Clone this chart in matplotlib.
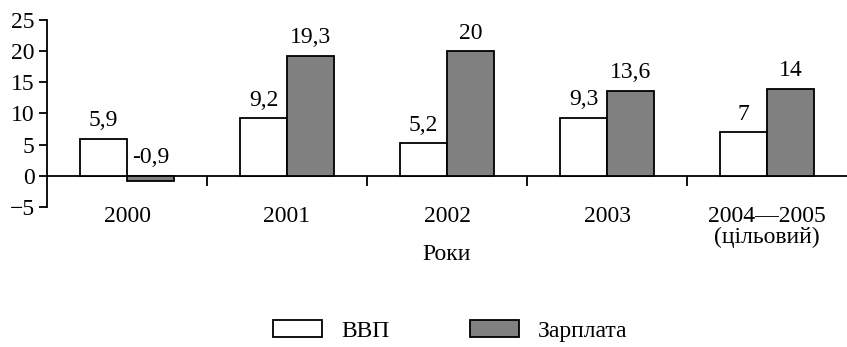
import matplotlib.pyplot as plt
import numpy as np

# дані
roky = ['2000', '2001', '2002', '2003', '2004\u20142005\n(цільовий)']
vvp = [5.9, 9.2, 5.2, 9.3, 7]
zarplata = [-0.9, 19.3, 20, 13.6, 14]
vvp_txt = ['5,9', '9,2', '5,2', '9,3', '7']
zarp_txt = ['-0,9', '19,3', '20', '13,6', '14']
yticks = [-5, 0, 5, 10, 15, 20, 25]

plt.rcParams['font.family'] = ['Liberation Serif', 'DejaVu Serif']
plt.rcParams['font.size'] = 17

fig = plt.figure(figsize=(8.47, 3.47), dpi=100)
ax = fig.add_axes([47/847, 140/347, 800/847, 187/347])

x = np.arange(len(roky))
w = 0.294
ax.bar(x - w/2, vvp, w, color='white', edgecolor='black', linewidth=1.3, label='ВВП', zorder=3)
ax.bar(x + w/2, zarplata, w, color='#808080', edgecolor='black', linewidth=1.3, label='Зарплата', zorder=3)

# підписи значень
for i in range(len(x)):
    ax.annotate(vvp_txt[i], (x[i] - w/2, max(vvp[i], 0)), xytext=(0, 5.5),
                textcoords='offset points', ha='center', va='bottom')
    ax.annotate(zarp_txt[i], (x[i] + w/2, max(zarplata[i], 0)), xytext=(0, 5.5),
                textcoords='offset points', ha='center', va='bottom')

ax.set_xlim(-0.5, 4.5)
ax.set_ylim(-5, 25)
ax.set_yticks(yticks)
ax.set_yticklabels(['\u22125' if t < 0 else str(t) for t in yticks])

for s in ['top', 'right']:
    ax.spines[s].set_visible(False)
ax.spines['bottom'].set_position(('data', 0))
ax.spines['left'].set_linewidth(1.3)
ax.spines['bottom'].set_linewidth(1.3)
ax.set_xticks([0.5, 1.5, 2.5, 3.5])
ax.set_xticklabels([])
ax.tick_params(axis='x', direction='out', length=7, width=1.3)
ax.tick_params(axis='y', direction='out', length=6, width=1.3, pad=3)

# назви категорій
for i, r in enumerate(roky):
    ax.text(x[i], -4.9, r, ha='center', va='top', linespacing=0.95)

ax.text(2, -12.6, 'Роки', ha='center', va='center')

fig.legend(loc='center', bbox_to_anchor=(450/847, 1 - 331/347), ncol=2, frameon=False,
           handlelength=2.1, handleheight=0.75, handletextpad=0.8, columnspacing=3.4)

fig.savefig('out.png', dpi=100)
